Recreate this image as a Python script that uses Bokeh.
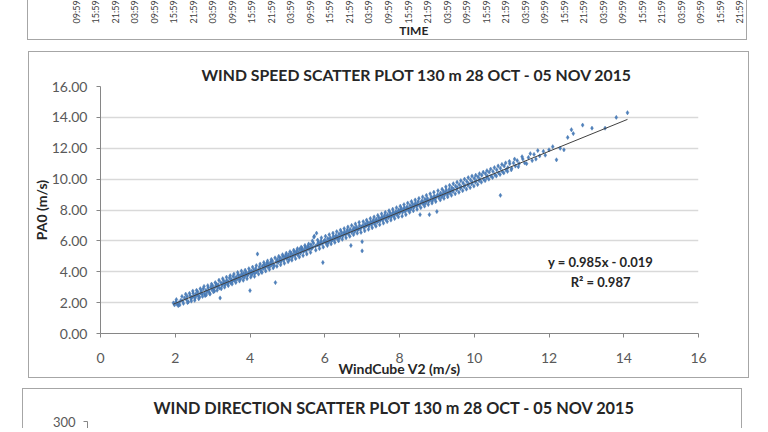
import numpy as np
from bokeh.plotting import figure
from bokeh.layouts import column
from bokeh.models import Range1d, FixedTicker, Label, ColumnDataSource, PrintfTickFormatter
from bokeh.core.properties import value
from bokeh.embed import file_html
from bokeh.resources import INLINE

# ---------------- data ----------------
TIME_LABELS = ["09:59", "15:59", "21:59", "03:59"] * 8 + ["09:59", "15:59", "21:59"]
TIME_TITLE = "TIME"

SPEED_TITLE = "WIND SPEED SCATTER PLOT 130 m 28 OCT - 05 NOV 2015"
SPEED_X_LABEL = "WindCube V2 (m/s)"
SPEED_Y_LABEL = "PA0 (m/s)"
SPEED_X_TICKS = [0, 2, 4, 6, 8, 10, 12, 14, 16]
SPEED_Y_TICKS = [0, 2, 4, 6, 8, 10, 12, 14, 16]
FIT_SLOPE = 0.985
FIT_INTERCEPT = -0.019
FIT_R2 = 0.987

speed_points = [
    (1.95, 1.98), (1.98, 1.85), (2.02, 2.05), (2.05, 1.9), (2.08, 1.8), (2.1, 2.0), (2.15, 2.15), (2.2, 2.1),
    (2.25, 2.3), (2.3, 2.2), (2.32, 2.4), (2.35, 2.05), (2.4, 2.45), (2.42, 2.25), (2.45, 2.35), (2.48, 2.6),
    (2.5, 2.4), (2.52, 2.15), (2.55, 2.55), (2.58, 2.45), (2.6, 2.7), (2.62, 2.5), (2.65, 2.35), (2.68, 2.62),
    (2.7, 2.75), (2.72, 2.55), (2.75, 2.9), (2.78, 2.6), (2.8, 2.45), (2.82, 2.8), (2.85, 2.7), (2.88, 2.95),
    (2.9, 2.75), (2.92, 2.6), (2.95, 3.0), (2.98, 2.85),
    (3.0, 3.1), (3.03, 2.9), (3.05, 2.75), (3.08, 3.05), (3.1, 3.2), (3.13, 3.0), (3.15, 3.15), (3.18, 2.95),
    (3.2, 2.3), (3.22, 3.3), (3.25, 3.1), (3.28, 3.25), (3.3, 3.4), (3.33, 3.15), (3.35, 3.3), (3.38, 3.45),
    (3.4, 3.2), (3.43, 3.35), (3.45, 3.6), (3.48, 3.3), (3.5, 3.5), (3.53, 3.4), (3.55, 3.7), (3.58, 3.45),
    (3.6, 3.55), (3.63, 3.65), (3.65, 3.5), (3.68, 3.8), (3.7, 3.6), (3.73, 3.75), (3.75, 3.55), (3.78, 3.85),
    (3.8, 3.7), (3.83, 3.9), (3.85, 3.65), (3.88, 3.8), (3.9, 3.95), (3.93, 3.75), (3.95, 3.85), (3.98, 4.0),
    (4.0, 2.78), (4.0, 3.9), (4.03, 4.05), (4.05, 3.8), (4.08, 3.95), (4.1, 4.1), (4.13, 3.9), (4.15, 4.2),
    (4.18, 4.0), (4.2, 5.15), (4.22, 4.1), (4.25, 4.3), (4.28, 4.15), (4.3, 4.0), (4.33, 4.35), (4.35, 4.2),
    (4.38, 4.45), (4.4, 4.25), (4.43, 4.4), (4.45, 4.55), (4.48, 4.3), (4.5, 4.5), (4.53, 4.35), (4.55, 4.6),
    (4.58, 4.45), (4.6, 4.7), (4.63, 4.5), (4.65, 4.4), (4.68, 3.3), (4.7, 4.65), (4.73, 4.8), (4.75, 4.6),
    (4.78, 4.7), (4.8, 4.9), (4.83, 4.65), (4.85, 4.8), (4.88, 5.0), (4.9, 4.75), (4.93, 4.9), (4.95, 5.05),
    (4.98, 4.85),
    (5.0, 4.95), (5.03, 5.1), (5.05, 4.8), (5.08, 5.0), (5.1, 5.2), (5.13, 4.95), (5.15, 5.1), (5.18, 5.3),
    (5.2, 5.05), (5.23, 5.2), (5.25, 5.35), (5.28, 5.1), (5.3, 5.25), (5.33, 5.45), (5.35, 5.2), (5.38, 5.35),
    (5.4, 5.5), (5.43, 5.3), (5.45, 5.4), (5.48, 5.6), (5.5, 5.35), (5.53, 5.5), (5.55, 5.65), (5.58, 5.45),
    (5.6, 5.55), (5.63, 5.75), (5.65, 5.5), (5.68, 5.6), (5.7, 5.85), (5.72, 6.3), (5.75, 5.65), (5.78, 6.5),
    (5.8, 5.75), (5.83, 5.9), (5.85, 5.7), (5.88, 5.85), (5.9, 6.0), (5.93, 5.8), (5.95, 4.6), (5.97, 5.95),
    (6.0, 6.05), (6.03, 5.85), (6.05, 5.95), (6.08, 6.15), (6.1, 5.9), (6.13, 6.05), (6.15, 6.2), (6.18, 6.0),
    (6.2, 6.1), (6.23, 6.3), (6.25, 6.05), (6.28, 6.2), (6.3, 6.35), (6.33, 6.15), (6.35, 6.25), (6.38, 6.45),
    (6.4, 6.2), (6.43, 6.35), (6.45, 6.55), (6.48, 6.3), (6.5, 6.45), (6.53, 6.6), (6.55, 6.4), (6.58, 6.5),
    (6.6, 6.7), (6.63, 6.45), (6.65, 6.6), (6.68, 6.75), (6.7, 5.7), (6.72, 6.55), (6.75, 6.7), (6.78, 6.85),
    (6.8, 6.6), (6.83, 6.75), (6.85, 6.9), (6.88, 6.7), (6.9, 6.8), (6.93, 7.0), (6.95, 6.75), (6.98, 6.9),
    (7.0, 5.35), (7.0, 5.95),
    (7.02, 7.0), (7.05, 6.85), (7.08, 7.1), (7.1, 6.95), (7.13, 7.05), (7.15, 7.2), (7.18, 6.95), (7.2, 7.1),
    (7.23, 7.25), (7.25, 7.05), (7.28, 7.2), (7.3, 7.35), (7.33, 7.1), (7.35, 7.25), (7.38, 7.4), (7.4, 7.2),
    (7.43, 7.3), (7.45, 7.5), (7.48, 7.3), (7.5, 7.4), (7.53, 7.55), (7.55, 7.35), (7.58, 7.5), (7.6, 7.65),
    (7.63, 7.4), (7.65, 7.55), (7.68, 7.7), (7.7, 7.5), (7.73, 7.6), (7.75, 7.8), (7.78, 7.55), (7.8, 7.7),
    (7.83, 7.85), (7.85, 7.6), (7.88, 7.75), (7.9, 7.9), (7.93, 7.7), (7.95, 7.85), (7.98, 8.0),
    (8.0, 7.8), (8.03, 7.95), (8.05, 8.1), (8.08, 7.85), (8.1, 8.0), (8.13, 8.15), (8.15, 7.9), (8.18, 8.05),
    (8.2, 8.2), (8.23, 8.0), (8.25, 8.1), (8.28, 8.3), (8.3, 8.05), (8.33, 8.2), (8.35, 8.4), (8.38, 8.15),
    (8.4, 8.3), (8.43, 8.45), (8.45, 8.25), (8.48, 8.35), (8.5, 8.55), (8.53, 8.3), (8.55, 7.7), (8.57, 8.45),
    (8.6, 8.6), (8.63, 8.4), (8.65, 8.5), (8.68, 8.7), (8.7, 8.45), (8.73, 8.6), (8.75, 8.75), (8.78, 8.55),
    (8.8, 7.7), (8.82, 8.65), (8.85, 8.85), (8.88, 8.6), (8.9, 8.75), (8.93, 8.9), (8.95, 8.7), (8.98, 8.85),
    (9.0, 7.9), (9.02, 9.0), (9.05, 8.8), (9.08, 8.95), (9.1, 9.1), (9.13, 8.85), (9.15, 9.0), (9.18, 9.2),
    (9.2, 8.95), (9.23, 9.1), (9.25, 9.3), (9.28, 9.0), (9.3, 9.15), (9.33, 9.35), (9.35, 9.1), (9.38, 9.25),
    (9.4, 9.45), (9.43, 9.2), (9.45, 9.35), (9.5, 9.55), (9.53, 9.3), (9.55, 9.45), (9.6, 9.65), (9.63, 9.4),
    (9.65, 9.5), (9.7, 9.75), (9.73, 9.5), (9.75, 9.6), (9.8, 9.85), (9.83, 9.6), (9.85, 9.7), (9.9, 9.95),
    (9.93, 9.7), (9.95, 9.8),
    (10.0, 10.05), (10.03, 9.8), (10.05, 9.9), (10.1, 10.15), (10.13, 9.9), (10.15, 10.0), (10.2, 10.25),
    (10.25, 10.0), (10.3, 10.35), (10.33, 10.1), (10.35, 10.2), (10.4, 10.45), (10.45, 10.2), (10.5, 10.5),
    (10.55, 10.3), (10.6, 10.6), (10.65, 10.4), (10.7, 8.95), (10.7, 10.7), (10.75, 10.5), (10.8, 10.85),
    (10.85, 10.6), (10.9, 10.75), (10.95, 11.0), (11.0, 10.7),
    (11.05, 11.05), (11.1, 10.85), (11.15, 11.2), (11.2, 11.0), (11.3, 11.3), (11.35, 11.05), (11.45, 11.4),
    (11.55, 11.2), (11.6, 11.6), (11.75, 11.5), (11.85, 11.8), (12.0, 11.9), (12.2, 11.25), (12.4, 11.9),
    (12.5, 12.7), (12.6, 13.2), (12.65, 12.95), (12.9, 13.5), (13.15, 13.3), (13.5, 13.3), (13.8, 14.0),
    (14.1, 14.3),
    # wider-spread observations along the band
    (2.03, 2.2), (2.12, 1.85), (2.18, 2.4), (2.22, 1.95), (2.28, 2.55), (2.33, 2.0), (2.38, 2.6), (2.43, 2.1),
    (2.47, 2.75), (2.53, 2.3), (2.57, 2.8), (2.63, 2.25), (2.67, 2.9), (2.73, 2.4), (2.77, 3.05), (2.83, 2.5),
    (2.87, 3.1), (2.93, 2.55), (2.97, 3.2),
    (3.02, 2.7), (3.07, 3.3), (3.12, 2.8), (3.17, 3.45), (3.23, 2.9), (3.27, 3.55), (3.32, 3.0), (3.37, 3.65),
    (3.42, 3.1), (3.47, 3.75), (3.52, 3.2), (3.57, 3.85), (3.62, 3.3), (3.67, 3.95), (3.72, 3.4), (3.77, 4.05),
    (3.82, 3.45), (3.87, 4.1), (3.92, 3.55), (3.97, 4.2),
    (4.02, 3.65), (4.07, 4.3), (4.12, 3.7), (4.17, 4.4), (4.23, 3.85), (4.27, 4.5), (4.32, 3.95), (4.37, 4.6),
    (4.42, 4.05), (4.47, 4.7), (4.52, 4.15), (4.57, 4.8), (4.62, 4.25), (4.67, 4.9), (4.72, 4.35), (4.77, 5.0),
    (4.82, 4.45), (4.87, 5.1), (4.92, 4.55), (4.97, 5.2),
    (5.02, 4.65), (5.07, 5.3), (5.12, 4.75), (5.17, 5.4), (5.22, 4.85), (5.27, 5.5), (5.32, 4.95), (5.37, 5.6),
    (5.42, 5.05), (5.47, 5.7), (5.52, 5.15), (5.57, 5.8), (5.62, 5.25), (5.67, 6.0), (5.71, 6.25), (5.76, 5.4),
    (5.81, 6.05), (5.86, 5.5), (5.91, 6.2), (5.96, 5.6),
    (6.02, 6.3), (6.07, 5.7), (6.12, 6.4), (6.17, 5.8), (6.22, 6.5), (6.27, 5.9), (6.32, 6.6), (6.37, 6.0),
    (6.42, 6.7), (6.47, 6.1), (6.52, 6.8), (6.57, 6.2), (6.62, 6.9), (6.67, 6.3), (6.72, 7.0), (6.77, 6.4),
    (6.82, 7.1), (6.87, 6.5), (6.92, 7.2), (6.97, 6.55),
    (7.03, 7.25), (7.07, 6.65), (7.12, 7.35), (7.17, 6.75), (7.22, 7.45), (7.27, 6.85), (7.32, 7.55), (7.37, 6.95),
    (7.42, 7.65), (7.47, 7.05), (7.52, 7.75), (7.57, 7.15), (7.62, 7.85), (7.67, 7.25), (7.72, 7.95), (7.77, 7.35),
    (7.82, 8.05), (7.87, 7.45), (7.92, 8.15), (7.97, 7.55),
    (8.02, 8.25), (8.07, 7.6), (8.12, 8.35), (8.17, 7.7), (8.22, 8.45), (8.27, 7.85), (8.32, 8.55), (8.37, 7.95),
    (8.42, 8.65), (8.47, 8.05), (8.52, 8.75), (8.57, 8.15), (8.62, 8.85), (8.67, 8.25), (8.72, 8.95), (8.77, 8.35),
    (8.82, 9.05), (8.87, 8.45), (8.92, 9.15), (8.97, 8.55),
    (9.03, 9.25), (9.09, 8.65), (9.14, 9.35), (9.19, 8.75), (9.24, 9.5), (9.29, 8.85), (9.34, 9.6), (9.39, 8.95),
    (9.44, 9.7), (9.49, 9.05), (9.54, 9.8), (9.59, 9.15), (9.64, 9.9), (9.69, 9.25), (9.74, 10.0), (9.79, 9.35),
    (9.84, 10.1), (9.89, 9.45), (9.94, 10.2), (9.99, 9.55),
    (10.04, 10.25), (10.09, 9.65), (10.14, 10.35), (10.19, 9.8), (10.24, 10.45), (10.29, 9.9), (10.34, 10.55),
    (10.39, 10.0), (10.44, 10.65), (10.49, 10.1), (10.54, 10.75), (10.59, 10.2), (10.64, 10.85), (10.69, 10.3),
    (10.74, 10.95), (10.79, 10.4), (10.84, 11.05), (10.89, 10.5), (10.94, 11.15), (10.99, 10.6),
    (11.08, 11.3), (11.18, 10.8), (11.28, 11.45), (11.4, 11.0), (11.5, 11.65), (11.65, 11.3), (11.7, 11.85),
    (11.9, 11.55), (12.1, 12.1), (12.3, 12.0),
]
windcube_v2 = [p[0] for p in speed_points]
pa0 = [p[1] for p in speed_points]

DIR_TITLE = "WIND DIRECTION SCATTER PLOT 130 m 28 OCT - 05 NOV 2015"
DIR_Y_TICKS = [300]

# ---------------- styling ----------------
FONT = "Lato"
BOX = "1px solid #a6a6a6"
DARK = "#262626"
GREY = "#595959"
GRID = "#d9d9d9"
AXIS = "#868686"
BLUE = "#4f81bd"

# ---------------- top (cropped time axis panel) ----------------
top = figure(width=720, height=40, x_range=Range1d(-2.46, 34.46), y_range=Range1d(0, 40),
             x_axis_location=None, y_axis_location=None, min_border=0,
             output_backend="svg", toolbar_location=None, frame_align=False,
             margin=(0, 0, 0, 27),
             styles={"border-left": BOX, "border-right": BOX, "border-bottom": BOX})
top.grid.visible = False
top.outline_line_color = None
tsrc = ColumnDataSource(dict(idx=list(range(len(TIME_LABELS))), ypos=[17] * len(TIME_LABELS), t=TIME_LABELS))
top.text(x="idx", y="ypos", text="t", source=tsrc, angle=np.pi / 2, text_align="left",
         text_baseline="middle", text_font=value(FONT), text_font_size="9px", text_color="#404040")
top.add_layout(Label(x=17.3, y=10, text=TIME_TITLE, text_align="center", text_baseline="middle",
                     text_font=FONT, text_font_style="bold", text_font_size="12px", text_color=DARK))

# ---------------- middle (wind speed scatter) ----------------
mid = figure(width=721, height=327, x_range=Range1d(0, 16), y_range=Range1d(0, 16),
             min_border_left=71, min_border_right=52, min_border_top=34, min_border_bottom=46,
             output_backend="svg", toolbar_location=None, frame_align=False,
             margin=(11, 0, 0, 28),
             styles={"border": BOX})
mid.outline_line_color = None
mid.title.text = SPEED_TITLE
mid.title.align = "left"
mid.title.offset = 101
mid.title.standoff = 6
mid.title.text_font = FONT
mid.title.text_font_style = "bold"
mid.title.text_font_size = "15.8px"
mid.title.text_color = DARK

mid.xgrid.visible = False
mid.ygrid.grid_line_color = GRID
mid.ygrid.grid_line_width = 1.5

for ax in (mid.xaxis[0], mid.yaxis[0]):
    ax.axis_line_color = AXIS
    ax.major_tick_line_color = AXIS
    ax.minor_tick_line_color = None
    ax.major_tick_in = 0
    ax.major_tick_out = 4
    ax.major_label_text_font = FONT
    ax.major_label_text_font_size = "14px"
    ax.major_label_text_color = GREY
    ax.axis_label_text_font = FONT
    ax.axis_label_text_font_style = "bold"
    ax.axis_label_text_font_size = "14px"
    ax.axis_label_text_color = DARK

mid.xaxis.ticker = FixedTicker(ticks=SPEED_X_TICKS)
mid.yaxis.ticker = FixedTicker(ticks=SPEED_Y_TICKS)
mid.yaxis.formatter = PrintfTickFormatter(format="%.2f")
mid.xaxis.axis_label = SPEED_X_LABEL
mid.yaxis.axis_label = SPEED_Y_LABEL
mid.xaxis.major_label_standoff = 15
mid.xaxis.axis_label_standoff = -6
mid.yaxis.major_label_standoff = 9
mid.yaxis.axis_label_standoff = -1

mid.scatter(windcube_v2, pa0, marker="diamond", size=4.3, fill_color=BLUE, line_color="#3c6ea8",
            line_width=0.4)
fit_x = [min(windcube_v2), max(windcube_v2)]
fit_y = [FIT_SLOPE * v + FIT_INTERCEPT for v in fit_x]
mid.line(fit_x, fit_y, line_color="#404040", line_width=1)

sign = "-" if FIT_INTERCEPT < 0 else "+"
mid.add_layout(Label(x=13.38, y=4.62, text=f"y = {FIT_SLOPE}x {sign} {abs(FIT_INTERCEPT)}",
                     text_align="center", text_baseline="middle", text_font=FONT,
                     text_font_style="bold", text_font_size="13px", text_color=DARK))
mid.add_layout(Label(x=13.38, y=3.32, text=f"R\u00b2 = {FIT_R2}",
                     text_align="center", text_baseline="middle", text_font=FONT,
                     text_font_style="bold", text_font_size="13px", text_color=DARK))

# ---------------- bottom (cropped wind direction panel) ----------------
bot = figure(width=720, height=40, x_range=Range1d(0, 1), y_range=Range1d(291.25, 300),
             x_axis_location=None, min_border_left=64, min_border_right=36,
             min_border_top=32, min_border_bottom=0,
             output_backend="svg", toolbar_location=None, frame_align=False,
             margin=(10, 0, 0, 22),
             styles={"border-top": BOX, "border-left": BOX, "border-right": BOX})
bot.outline_line_color = None
bot.title.text = DIR_TITLE
bot.title.align = "left"
bot.title.offset = 66
bot.title.text_font = FONT
bot.title.text_font_style = "bold"
bot.title.text_font_size = "16.3px"
bot.title.text_color = DARK
bot.xgrid.visible = False
bot.ygrid.grid_line_color = GRID
bot.ygrid.grid_line_width = 1.5
bot.yaxis.ticker = FixedTicker(ticks=DIR_Y_TICKS)
bot.yaxis.axis_line_color = AXIS
bot.yaxis.major_tick_line_color = AXIS
bot.yaxis.minor_tick_line_color = None
bot.yaxis.major_tick_in = 0
bot.yaxis.major_tick_out = 4
bot.yaxis.major_label_standoff = 8
bot.yaxis.major_label_text_font = FONT
bot.yaxis.major_label_text_font_size = "13px"
bot.yaxis.major_label_text_color = GREY
bot.scatter(x=[], y=[], marker="diamond", size=5, color=BLUE)

layout = column(top, mid, bot, spacing=0)
open("out.html", "w").write(file_html(layout, INLINE))
